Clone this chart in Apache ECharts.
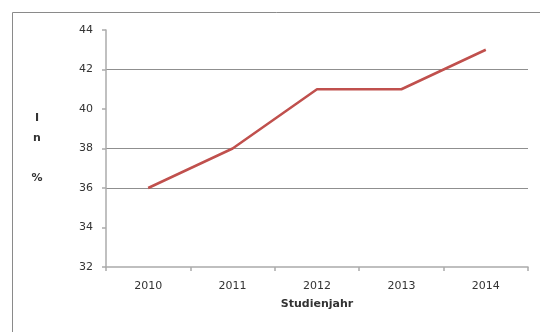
<!DOCTYPE html>
<html>
<head>
<meta charset="utf-8">
<script src="https://cdn.jsdelivr.net/npm/echarts@6/dist/echarts.min.js"></script>
<style>
  html, body { margin: 0; padding: 0; background: #fff; }
  #chart { width: 540px; height: 332px; }
</style>
</head>
<body>
<div id="chart"></div>
<script>
// Study years on the x axis and the share (in %) per year
const years = ['2010', '2011', '2012', '2013', '2014'];
const shares = [36, 38, 41, 41, 43];
// Y axis range and tick step
const yMin = 32;
const yMax = 44;
const yStep = 2;
// Horizontal gridlines are only drawn at these values
const gridValues = [36, 38, 42];

const gridColors = [];
for (let v = yMin; v <= yMax; v += yStep) {
  gridColors.push(gridValues.indexOf(v) >= 0 ? '#8f8f8f' : 'rgba(0,0,0,0)');
}

const chart = echarts.init(document.getElementById('chart'), null, { renderer: 'canvas' });

const font = '"DejaVu Sans", Arial, sans-serif';

chart.setOption({
  animation: false,
  backgroundColor: '#fff',
  grid: { left: 106, right: 12, top: 30, bottom: 65, containLabel: false },
  graphic: [{
    type: 'rect',
    shape: { x: 12.5, y: 12.5, width: 560, height: 360 },
    style: { fill: 'none', stroke: '#8a8a8a', lineWidth: 1 },
    silent: true
  }],
  xAxis: {
    type: 'category',
    data: years,
    boundaryGap: true,
    name: 'Studienjahr',
    nameLocation: 'middle',
    nameGap: 32,
    nameTextStyle: { fontFamily: font, fontSize: 11, fontWeight: 'bold', color: '#333' },
    axisLine: { show: true, lineStyle: { color: '#ababab', width: 1.5 } },
    axisTick: { show: true, alignWithLabel: false, length: 4, lineStyle: { color: '#ababab', width: 1.5 } },
    axisLabel: { fontFamily: font, fontSize: 11, color: '#333', margin: 14 },
    splitLine: { show: false }
  },
  yAxis: {
    type: 'value',
    min: yMin,
    max: yMax,
    interval: yStep,
    name: 'I\nn\n\n%',
    nameLocation: 'middle',
    nameRotate: 0,
    nameGap: 69,
    nameTextStyle: {
      fontFamily: font, fontSize: 11, fontWeight: 'bold', color: '#333',
      lineHeight: 20, align: 'center', verticalAlign: 'middle'
    },
    axisLine: { show: true, lineStyle: { color: '#ababab', width: 1.5 } },
    axisTick: { show: true, length: 4, lineStyle: { color: '#ababab', width: 1.5 } },
    axisLabel: { fontFamily: font, fontSize: 11, color: '#333', margin: 13 },
    splitLine: { show: true, lineStyle: { color: gridColors, width: 1 } }
  },
  series: [{
    type: 'line',
    data: shares,
    symbol: 'none',
    lineStyle: { color: '#c0504d', width: 2.5 },
    itemStyle: { color: '#c0504d' }
  }]
});
</script>
</body>
</html>
